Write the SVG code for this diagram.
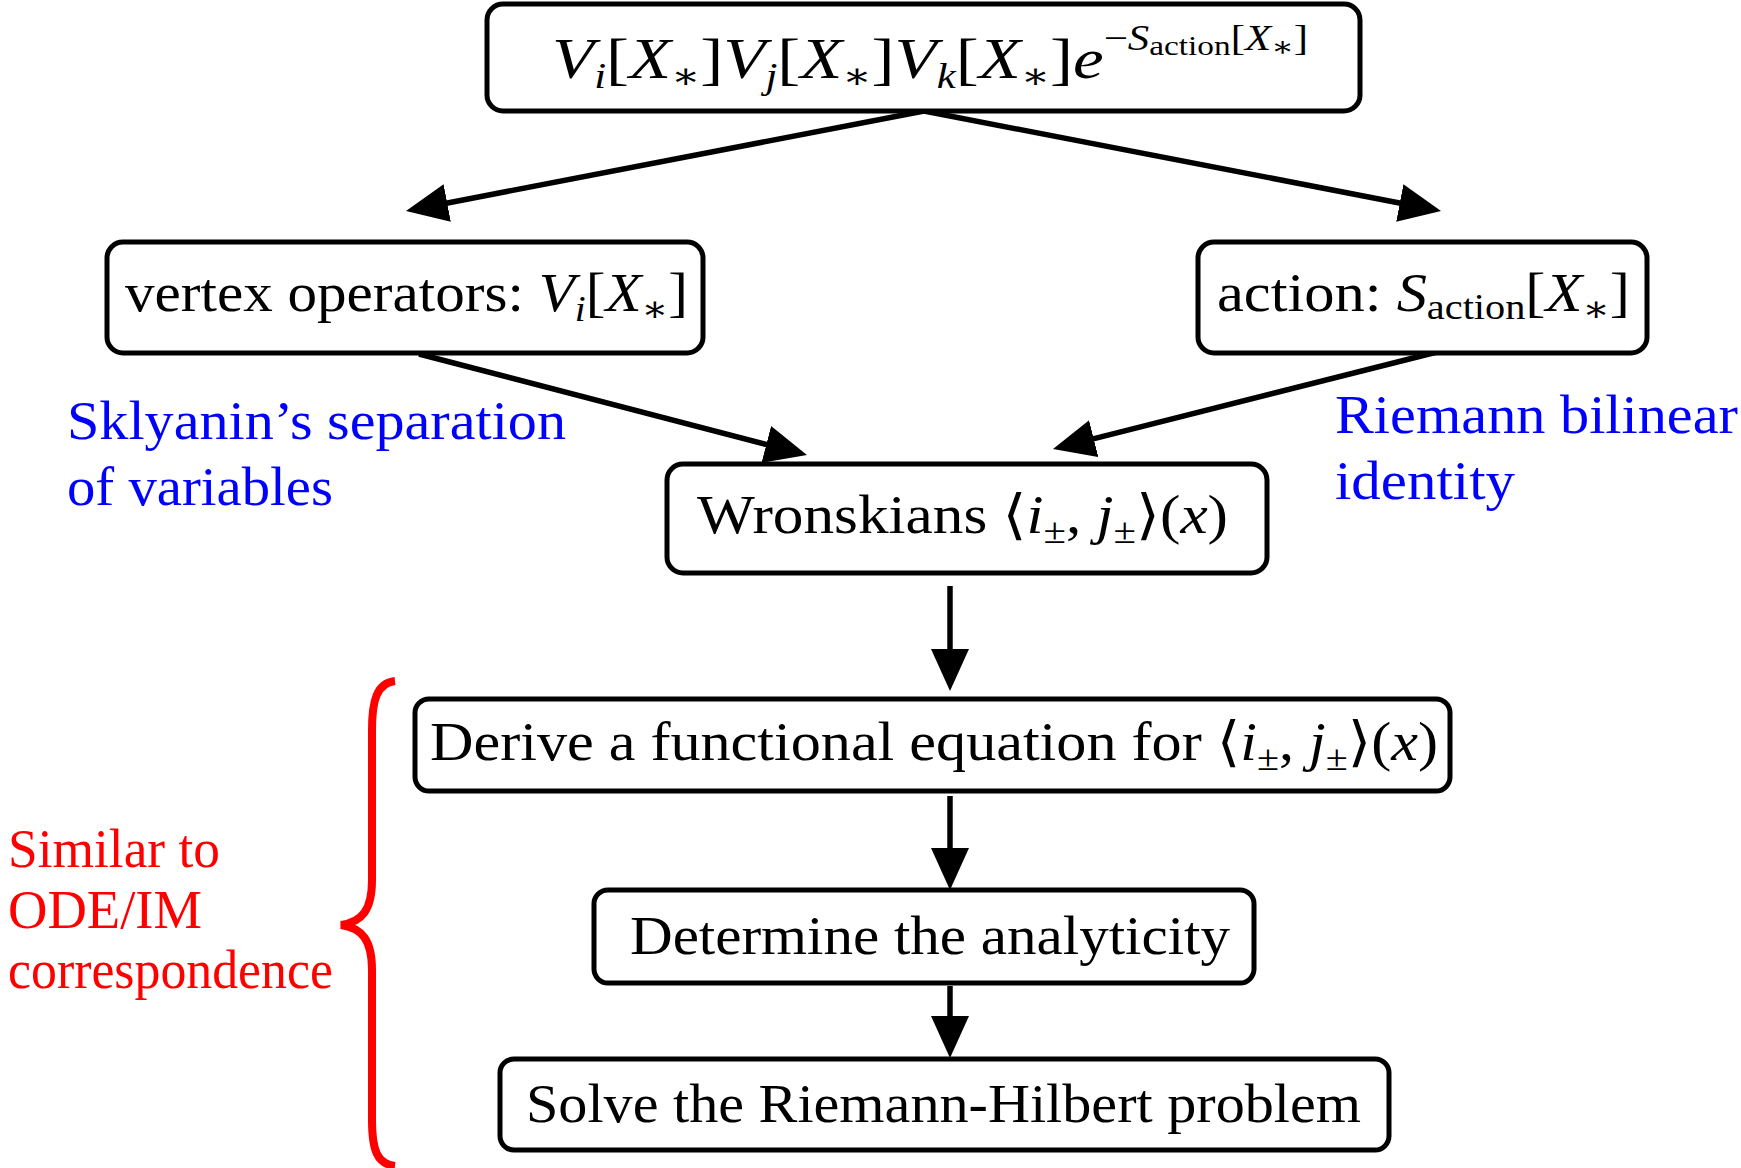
<svg xmlns="http://www.w3.org/2000/svg" width="1741" height="1168" viewBox="0 0 1741 1168">
<style>
.box{fill:#fff;stroke:#000;stroke-width:5}
text{font-family:"Liberation Serif","DejaVu Serif",serif;font-size:54px;fill:#000}
.it{font-style:italic}
.sub{font-size:36px}
.ss{font-size:28px}
.big{font-size:58px}
.blue{fill:#0000ff}
.red{fill:#ff0000}
.conn line{stroke:#000;stroke-width:5.5}
</style>
<defs>
<marker id="ah" viewBox="0 0 42 40" refX="22" refY="20" markerWidth="42" markerHeight="40" markerUnits="userSpaceOnUse" orient="auto">
<path d="M0,1 L42,20 L0,39 z" fill="#000"/>
</marker>
</defs>
<rect width="1741" height="1168" fill="#fff"/>
<g class="conn">
<line x1="924" y1="111" x2="425.6" y2="207.2" marker-end="url(#ah)"/>
<line x1="924" y1="111" x2="1421.4" y2="207.2" marker-end="url(#ah)"/>
<line x1="419" y1="354" x2="787.6" y2="450" marker-end="url(#ah)"/>
<line x1="1441" y1="351" x2="1072.4" y2="444.1" marker-end="url(#ah)"/>
<line x1="950" y1="586" x2="950" y2="671" marker-end="url(#ah)"/>
<line x1="950" y1="796" x2="950" y2="870" marker-end="url(#ah)"/>
<line x1="950" y1="986" x2="950" y2="1038" marker-end="url(#ah)"/>
</g>
<g id="top">
<rect class="box" x="487" y="4" width="873" height="107" rx="16"/>
<text class="big" x="552" y="78" textLength="756" lengthAdjust="spacingAndGlyphs"><tspan class="it">V</tspan><tspan class="it sub" dy="10">i</tspan><tspan dy="-10">[</tspan><tspan class="it">X</tspan><tspan class="sub" dy="10">∗</tspan><tspan dy="-10">]</tspan><tspan class="it">V</tspan><tspan class="it sub" dy="10">j</tspan><tspan dy="-10">[</tspan><tspan class="it">X</tspan><tspan class="sub" dy="10">∗</tspan><tspan dy="-10">]</tspan><tspan class="it">V</tspan><tspan class="it sub" dy="10">k</tspan><tspan dy="-10">[</tspan><tspan class="it">X</tspan><tspan class="sub" dy="10">∗</tspan><tspan dy="-10">]</tspan><tspan class="it">e</tspan><tspan class="sub" dy="-28">−</tspan><tspan class="it sub">S</tspan><tspan class="ss" dy="5">action</tspan><tspan class="sub" dy="-5">[</tspan><tspan class="it sub">X</tspan><tspan class="ss" dy="6">∗</tspan><tspan class="sub" dy="-6">]</tspan></text>
</g>
<g id="vertex">
<rect class="box" x="107" y="242" width="596" height="111" rx="16"/>
<text x="125" y="311" textLength="563" lengthAdjust="spacingAndGlyphs">vertex operators: <tspan class="it">V</tspan><tspan class="it sub" dy="10">i</tspan><tspan dy="-10">[</tspan><tspan class="it">X</tspan><tspan class="sub" dy="10">∗</tspan><tspan dy="-10">]</tspan></text>
</g>
<g id="action">
<rect class="box" x="1198" y="242" width="449" height="111" rx="16"/>
<text x="1217" y="311" textLength="413" lengthAdjust="spacingAndGlyphs">action:  <tspan class="it">S</tspan><tspan class="sub" dy="8">action</tspan><tspan dy="-8">[</tspan><tspan class="it">X</tspan><tspan class="sub" dy="10">∗</tspan><tspan dy="-10">]</tspan></text>
</g>
<g id="wronskians">
<rect class="box" x="667" y="464" width="600" height="109" rx="16"/>
<text x="697" y="533" textLength="531" lengthAdjust="spacingAndGlyphs">Wronskians ⟨<tspan class="it">i</tspan><tspan class="sub" dy="10">±</tspan><tspan dy="-10">, </tspan><tspan class="it">j</tspan><tspan class="sub" dy="10">±</tspan><tspan dy="-10">⟩(</tspan><tspan class="it">x</tspan>)</text>
</g>
<g id="derive">
<rect class="box" x="415" y="699" width="1035" height="92" rx="14"/>
<text x="430" y="760" textLength="1008" lengthAdjust="spacingAndGlyphs">Derive a functional equation for ⟨<tspan class="it">i</tspan><tspan class="sub" dy="10">±</tspan><tspan dy="-10">, </tspan><tspan class="it">j</tspan><tspan class="sub" dy="10">±</tspan><tspan dy="-10">⟩(</tspan><tspan class="it">x</tspan>)</text>
</g>
<g id="determine">
<rect class="box" x="594" y="890" width="660" height="93" rx="14"/>
<text x="630" y="954" textLength="600" lengthAdjust="spacingAndGlyphs">Determine the analyticity</text>
</g>
<g id="solve">
<rect class="box" x="500" y="1059" width="889" height="91" rx="14"/>
<text x="526" y="1122" textLength="835" lengthAdjust="spacingAndGlyphs">Solve the Riemann-Hilbert problem</text>
</g>
<g id="labels">
<text class="blue" x="67" y="439" textLength="499" lengthAdjust="spacingAndGlyphs">Sklyanin’s separation</text>
<text class="blue" x="67" y="505" textLength="266" lengthAdjust="spacingAndGlyphs">of variables</text>
<text class="blue" x="1335" y="433" textLength="403" lengthAdjust="spacingAndGlyphs">Riemann bilinear</text>
<text class="blue" x="1335" y="499" textLength="180" lengthAdjust="spacingAndGlyphs">identity</text>
<text class="red" x="8" y="867" textLength="212" lengthAdjust="spacingAndGlyphs">Similar to</text>
<text class="red" x="8" y="928" textLength="194" lengthAdjust="spacingAndGlyphs">ODE/IM</text>
<text class="red" x="8" y="988" textLength="325" lengthAdjust="spacingAndGlyphs">correspondence</text>
<path d="M395,681 C377,683 372,700 372,730 L372,880 C372,910 362,922 341,925 C362,928 372,940 372,970 L372,1120 C372,1150 377,1164 395,1166" fill="none" stroke="#ff0000" stroke-width="8"/>
</g>
</svg>
